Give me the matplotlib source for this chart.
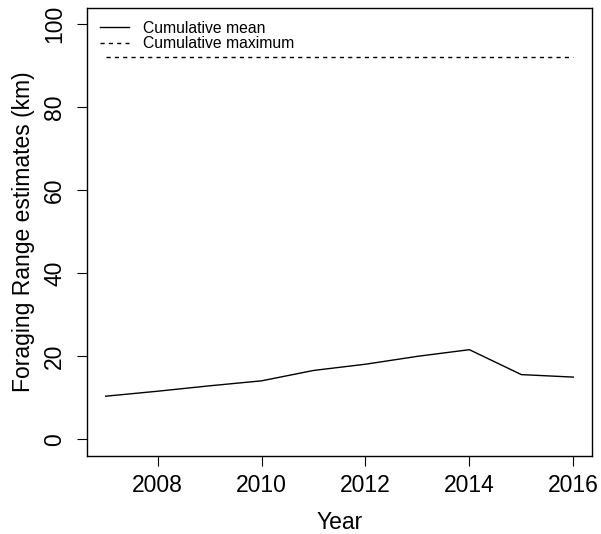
import matplotlib
matplotlib.use("Agg")
import matplotlib.pyplot as plt

years = [2007, 2008, 2009, 2010, 2011, 2012, 2013, 2014, 2015, 2016]
cum_mean = [10.4, 11.6, 12.9, 14.1, 16.6, 18.1, 20.0, 21.6, 15.6, 15.0]
cum_max = [92, 92, 92, 92, 92, 92, 92, 92, 92, 92]
xticks = [2008, 2010, 2012, 2014, 2016]
yticks = [0, 20, 40, 60, 80, 100]

plt.rcParams['font.family'] = ['Liberation Sans', 'DejaVu Sans']

fig = plt.figure(figsize=(6.01, 5.34), dpi=100)
ax = fig.add_axes([87/601, 1-456/534, (592-87)/601, (456-7.5)/534])

ax.plot(years, cum_mean, color='black', lw=1.0, label='Cumulative mean')
ax.plot(years, cum_max, color='black', lw=1.0, linestyle=(0, (3, 3)), label='Cumulative maximum')

ax.set_xlim(2006.64, 2016.36)
ax.set_ylim(-4, 104)
ax.set_xticks(xticks)
ax.set_yticks(yticks)
ax.set_yticklabels([str(v) for v in yticks], rotation=90, va='center')
ax.tick_params(direction='out', length=7, width=0.8, labelsize=16.5, colors='black')
ax.tick_params(axis='x', pad=6)
ax.tick_params(axis='y', pad=8)
for s in ax.spines.values():
    s.set_linewidth(1.0)

ax.set_xlabel('Year', fontsize=16.5, labelpad=10)
ax.set_ylabel('Foraging Range estimates (km)', fontsize=16.5, labelpad=6)

ax.legend(loc='upper left', frameon=False, fontsize=11.3, handlelength=1.8,
          handletextpad=0.9, labelspacing=0.05, borderaxespad=0.0,
          bbox_to_anchor=(0.014, 0.985))

fig.savefig('out.png', dpi=100)
